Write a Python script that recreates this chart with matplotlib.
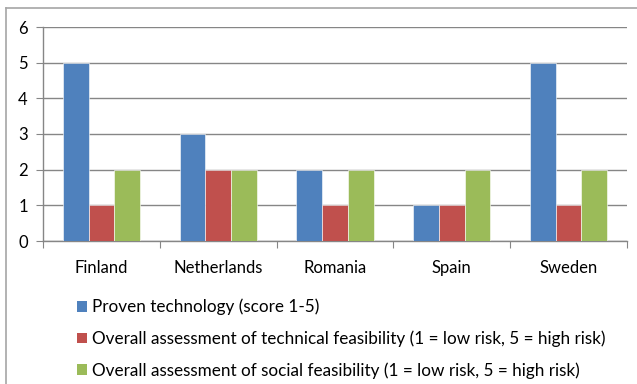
import matplotlib.pyplot as plt
from matplotlib.patches import Patch
from matplotlib.lines import Line2D
import numpy as np

plt.rcParams['font.family'] = ['Lato', 'DejaVu Sans']

countries = ["Finland", "Netherlands", "Romania", "Spain", "Sweden"]
series_names = [
    "Proven technology (score 1-5)",
    "Overall assessment of technical feasibility (1 = low risk, 5 = high risk)",
    "Overall assessment of social feasibility (1 = low risk, 5 = high risk)",
]
proven = [5, 3, 2, 1, 5]
technical = [1, 2, 1, 1, 1]
social = [2, 2, 2, 2, 2]

colors = ["#4F81BD", "#C0504D", "#9BBB59"]
grid_col = "#868686"

W, H = 637, 384
fig = plt.figure(figsize=(W / 100, H / 100), dpi=100)
ax = fig.add_axes([43 / W, 1 - 241 / H, (627 - 43) / W, (241 - 27) / H])

x = np.arange(len(countries))
bw = 0.22
for k, vals in enumerate([proven, technical, social]):
    ax.bar(x + (k - 1) * bw, vals, bw, color=colors[k],
           edgecolor="white", linewidth=0.4, zorder=3)

ax.set_xlim(-0.5, len(countries) - 0.5)
ax.set_ylim(0, 6)
ax.set_yticks(range(7))
ax.yaxis.grid(True, color=grid_col, linewidth=1.0, zorder=0)
ax.set_xticks(np.arange(-0.5, len(countries)), minor=False)
ax.set_xticklabels([])
ax.set_xticks(x, minor=True)
ax.set_xticklabels(countries, minor=True, fontsize=12)
ax.tick_params(axis='x', which='minor', length=0, pad=14)
ax.tick_params(axis='x', which='major', length=5, color=grid_col, direction='out')
ax.tick_params(axis='y', length=5, color=grid_col, labelsize=12, pad=6)
for s in ["top", "right"]:
    ax.spines[s].set_visible(False)
for s in ["left", "bottom"]:
    ax.spines[s].set_color(grid_col)
    ax.spines[s].set_linewidth(1.0)

handles = [Patch(facecolor=c, edgecolor="none") for c in colors]
fig.legend(handles, series_names, loc="upper left",
           bbox_to_anchor=(70 / W, 1 - 292 / H), frameon=False,
           fontsize=12.3, handlelength=0.6, handleheight=0.6,
           handletextpad=0.3, labelspacing=0.88, borderaxespad=0)

# outer chart border
fig.add_artist(Line2D([6 / W, 6 / W], [0, 1 - 8 / H], color="#a6a6a6", lw=1.2))
fig.add_artist(Line2D([6 / W, 1], [1 - 8 / H, 1 - 8 / H], color="#a6a6a6", lw=1.2))

fig.savefig("out.png", dpi=100)
